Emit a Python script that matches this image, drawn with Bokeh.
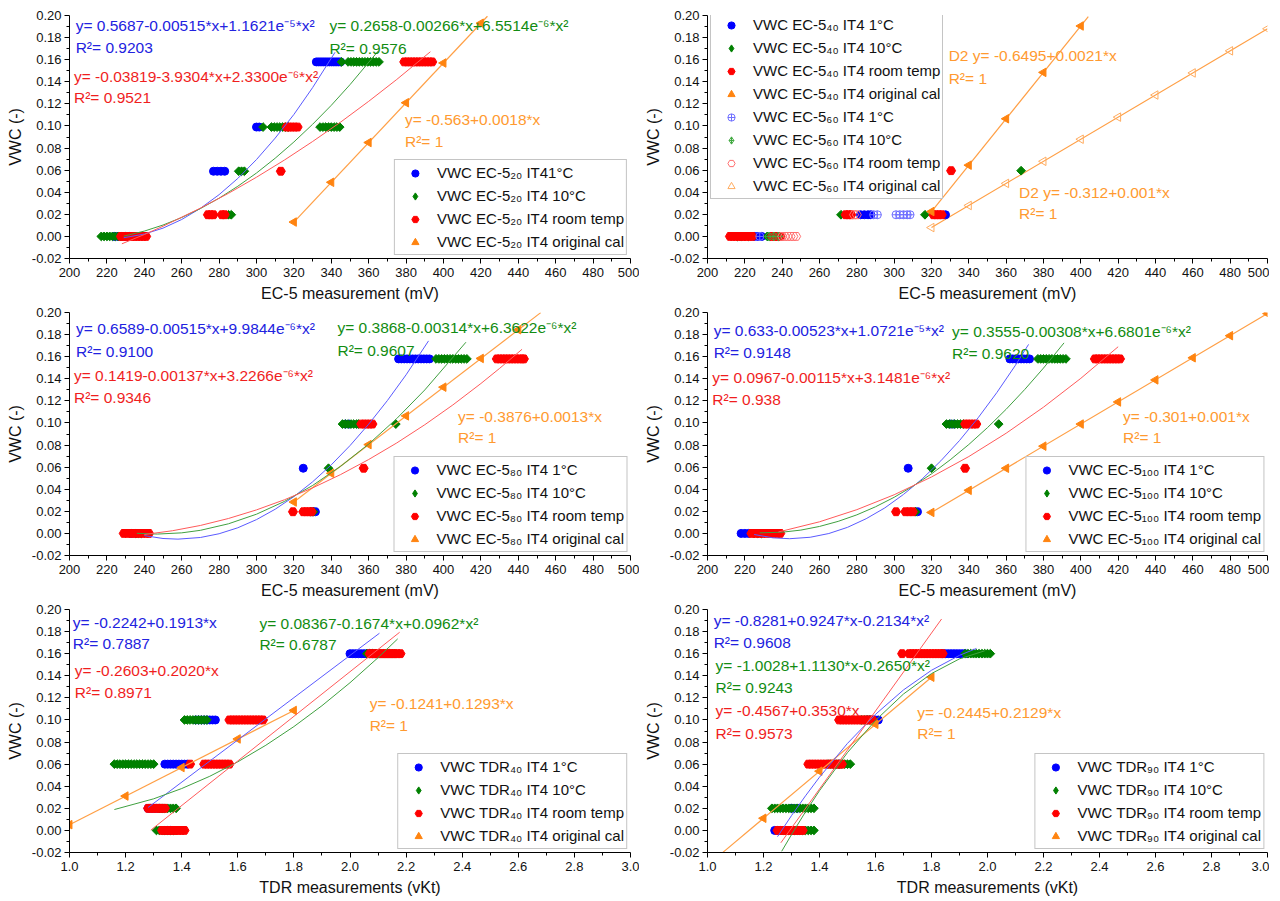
import math
from bokeh.plotting import figure
from bokeh.models import Range1d, FixedTicker, NumeralTickFormatter, Legend, LegendItem
from bokeh.layouts import column, row
from bokeh.embed import file_html
from bokeh.resources import INLINE
from bokeh.core.properties import value

FONT = "Liberation Sans"

# ---------------- data: panel 1 (EC-5 20) ----------------
P1_BLUE = [(0.0, [224, 226, 228, 230, 232]),
           (0.059, [277, 279, 281, 283]),
           (0.099, [300, 301.5]),
           (0.158, [332, 333, 334, 335, 336, 337, 338, 339, 340, 341, 342, 343, 344, 345])]
P1_GREEN = [(0.0, [217, 218.5, 220, 221.5, 223, 224.5, 226, 227.5]),
            (0.0196, [285, 286.5]),
            (0.059, [290.5, 292, 293.5]),
            (0.099, [303.5, 308, 309.5, 311, 312.5, 314, 315.5, 317, 334, 335.5, 337, 338.5, 340, 341.5, 343, 344.5]),
            (0.158, [345.5, 349, 350.5, 352, 353.5, 355, 356.5, 358, 359.5, 361, 362.5, 364, 365.5])]
P1_RED = [(0.0, [227.5, 229, 230.5, 232, 233.5, 235, 236.5, 238, 239.5, 241]),
          (0.0196, [274, 275.5, 277, 281.5, 283]),
          (0.059, [313]),
          (0.099, [316, 317.5, 319, 320.5, 322]),
          (0.158, [379, 380.5, 382, 383.5, 385, 386.5, 388, 389.5, 391, 392.5, 394])]
P1_ORANGE_X = [320, 340, 360, 380, 400, 420]
P1_ORANGE_Y = [0.013, 0.049, 0.085, 0.121, 0.157, 0.193]
P1_ORANGE_LINE = ([320, 423.5], [0.013, 0.1993])
P1_FIT_BLUE = ([229, 240, 250, 260, 270, 280, 290, 300, 310, 320, 330, 342],
               [-0.0012, 0.0021, 0.0075, 0.0153, 0.0254, 0.0378, 0.0525, 0.0696, 0.0890, 0.1104, 0.1347, 0.1667])
P1_FIT_GREEN = ([229, 240, 250, 260, 270, 280, 290, 300, 310, 320, 330, 340, 350, 365],
                [0.0002, 0.0048, 0.0103, 0.0171, 0.0252, 0.0346, 0.0454, 0.0574, 0.0708, 0.0855, 0.1015, 0.1187, 0.1374, 0.1677])
P1_FIT_RED = ([228, 240, 250, 270, 285, 300, 315, 330, 345, 360, 375, 393],
              [-0.0067, 0.0017, 0.0092, 0.0256, 0.0390, 0.0536, 0.0692, 0.0859, 0.1035, 0.1223, 0.1421, 0.1672])
P1_LABELS = ["VWC EC-5₂₀ IT41°C", "VWC EC-5₂₀ IT4 10°C", "VWC EC-5₂₀ IT4 room temp", "VWC EC-5₂₀ IT4 original cal"]
P1_NOTES = [(203.3, 0.191, "y= 0.5687-0.00515*x+1.1621e⁻⁵*x²", "b"),
            (203.3, 0.171, "R²= 0.9203", "b"),
            (339, 0.191, "y= 0.2658-0.00266*x+6.5514e⁻⁶*x²", "g"),
            (339, 0.170, "R²= 0.9576", "g"),
            (202.4, 0.1448, "y= -0.03819-3.9304*x+2.3300e⁻⁶*x²", "r"),
            (202.4, 0.1255, "R²= 0.9521", "r"),
            (379.4, 0.106, "y= -0.563+0.0018*x", "o"),
            (379.4, 0.0863, "R²= 1", "o")]

# ---------------- data: panel 2 (EC-5 40 / 60) ----------------
P2_BLUE40 = [(0.0, [225, 227, 229]), (0.0196, [282, 284, 286, 287.5, 327.5])]
P2_GREEN40 = [(0.0, [216, 218, 220, 222, 232, 233.5]), (0.0196, [271.5, 316.5]), (0.0595, [320, 368])]
P2_RED40 = [(0.0, [212, 213.5, 215, 216.5, 218, 219.5, 221, 222.5, 224, 234.5, 236, 237.5, 239]),
            (0.0196, [274, 275.5, 277, 321, 322.5, 324, 325.5]),
            (0.0595, [281, 282.5, 284, 285.5, 287, 330.5])]
P2_ORANGE40_X = [320, 340, 360, 380, 400]
P2_ORANGE40_Y = [0.0225, 0.0645, 0.1065, 0.1485, 0.1905]
P2_ORANGE40_LINE = ([320, 404], [0.0225, 0.1989])
P2_BLUE60 = [(0.0, [228]), (0.0196, [289, 291, 301, 303, 305, 307, 308.5])]
P2_GREEN60 = [(0.0, [233, 235.5, 238]), (0.0595, [320])]
P2_RED60 = [(0.0, [240, 241.5, 243, 244.5, 246, 247.5]), (0.0196, [278.5, 280]), (0.0595, [282.5, 285])]
P2_ORANGE60_X = [320, 340, 360, 380, 400, 420, 440, 460, 480, 500]
P2_ORANGE60_Y = [0.008, 0.028, 0.048, 0.068, 0.088, 0.108, 0.128, 0.148, 0.168, 0.188]
P2_ORANGE60_LINE = ([320, 500], [0.008, 0.188])
P2_LABELS = ["VWC EC-5₄₀ IT4 1°C", "VWC EC-5₄₀ IT4 10°C", "VWC EC-5₄₀ IT4 room temp", "VWC EC-5₄₀ IT4 original cal",
             "VWC EC-5₆₀ IT4 1°C", "VWC EC-5₆₀ IT4 10°C", "VWC EC-5₆₀ IT4 room temp", "VWC EC-5₆₀ IT4 original cal"]
P2_NOTES = [(329.2, 0.1636, "D2 y= -0.6495+0.0021*x", "o"),
            (329.2, 0.1434, "R²= 1", "o"),
            (366.9, 0.040, "D2 y= -0.312+0.001*x", "o"),
            (366.9, 0.021, "R²= 1", "o")]

# ---------------- data: panel 3 (EC-5 80) ----------------
P3_BLUE = [(0.0, [233, 235.5]), (0.0196, [330, 331.5]), (0.059, [325]), (0.099, [347.5, 349.5]),
           (0.158, [376, 377.5, 379, 380.5, 382, 383.5, 385, 386.5, 388, 389.5, 391, 392.5])]
P3_GREEN = [(0.0, [235.5, 237, 238.5]), (0.0196, [329, 330.5]), (0.059, [338.5]),
            (0.099, [346, 347.5, 349, 350.5, 352, 353.5, 354.5, 374.5]),
            (0.158, [396, 397.5, 399, 400.5, 402, 403.5, 405, 406.5, 408, 409.5, 411, 412.5])]
P3_RED = [(0.0, [229, 231, 233, 235, 237, 239, 241, 242.5]), (0.0196, [319.5, 325, 326.5, 328, 329.5]),
          (0.059, [357.3]), (0.099, [356, 357.5, 359, 360.5, 362]),
          (0.158, [428.5, 430, 431.5, 433, 434.5, 436, 437.5, 439, 440.5, 442, 443])]
P3_ORANGE_X = [320, 340, 360, 380, 400, 420, 440]
P3_ORANGE_Y = [0.0284, 0.0544, 0.0804, 0.1064, 0.1324, 0.1584, 0.1844]
P3_ORANGE_LINE = ([320, 452], [0.0284, 0.1999])
P3_FIT_BLUE = ([240, 250, 258, 270, 280, 290, 300, 310, 320, 330, 340, 350, 360, 370, 380, 392],
               [-0.0020, -0.0046, -0.0052, -0.0037, -0.0003, 0.0051, 0.0125, 0.0219, 0.0333, 0.0467, 0.0621, 0.0795, 0.0989, 0.1203, 0.1436, 0.1743])
P3_FIT_GREEN = ([236, 247, 260, 270, 285, 300, 315, 330, 345, 360, 375, 390, 412],
                [0.0001, -0.0006, 0.0005, 0.0028, 0.0087, 0.0174, 0.0290, 0.0434, 0.0608, 0.0809, 0.1040, 0.1299, 0.1731])
P3_FIT_RED = ([240, 255, 270, 285, 300, 315, 330, 345, 360, 375, 390, 405, 420, 430, 442],
              [-0.0010, 0.0024, 0.0072, 0.0135, 0.0213, 0.0305, 0.0412, 0.0533, 0.0669, 0.0819, 0.0984, 0.1163, 0.1357, 0.1494, 0.1667])
P3_LABELS = ["VWC EC-5₈₀ IT4 1°C", "VWC EC-5₈₀ IT4 10°C", "VWC EC-5₈₀ IT4 room temp", "VWC EC-5₈₀ IT4 original cal"]
P3_NOTES = [(203.5, 0.1858, "y= 0.6589-0.00515*x+9.9844e⁻⁶*x²", "b"),
            (203.5, 0.165, "R²= 0.9100", "b"),
            (343.3, 0.186, "y= 0.3868-0.00314*x+6.3622e⁻⁶*x²", "g"),
            (343.3, 0.166, "R²= 0.9607", "g"),
            (202.4, 0.1434, "y= 0.1419-0.00137*x+3.2266e⁻⁶*x²", "r"),
            (202.4, 0.123, "R²= 0.9346", "r"),
            (407.8, 0.106, "y= -0.3876+0.0013*x", "o"),
            (407.8, 0.0865, "R²= 1", "o")]

# ---------------- data: panel 4 (EC-5 100) ----------------
P4_BLUE = [(0.0, [218, 220, 222]), (0.0196, [312.5]), (0.059, [307.5]), (0.099, [330, 332]),
           (0.158, [362, 363.5, 365, 366.5, 368, 369.5, 371, 372.5])]
P4_GREEN = [(0.0, [225, 227, 229]), (0.0196, [311.5]), (0.059, [320]),
            (0.099, [328, 329.5, 331, 332.5, 334, 335.5, 337, 356]),
            (0.158, [377, 378.5, 380, 381.5, 383, 384.5, 386, 387.5, 389, 390.5, 392])]
P4_RED = [(0.0, [223.5, 225.5, 227.5, 229.5, 231.5, 233.5, 235.5, 237.5, 239]), (0.0196, [301, 306, 308, 310]),
          (0.059, [338]), (0.099, [338, 339.5, 341, 342.5, 344]),
          (0.158, [407.5, 409, 410.5, 412, 413.5, 415, 416.5, 418, 419.5, 421])]
P4_ORANGE_X = [320, 340, 360, 380, 400, 420, 440, 460, 480, 500]
P4_ORANGE_Y = [0.019, 0.039, 0.059, 0.079, 0.099, 0.119, 0.139, 0.159, 0.179, 0.199]
P4_ORANGE_LINE = ([320, 500], [0.019, 0.199])
P4_FIT_BLUE = ([225, 235, 244, 255, 265, 275, 285, 295, 305, 315, 325, 335, 345, 355, 365, 372],
               [-0.0010, -0.0040, -0.0048, -0.0035, -0.0001, 0.0055, 0.0133, 0.0231, 0.0353, 0.0493, 0.0657, 0.0841, 0.1047, 0.1275, 0.1523, 0.1711])
P4_FIT_GREEN = ([228, 240, 250, 260, 270, 280, 290, 300, 310, 320, 330, 340, 350, 360, 370, 380, 391],
                [0.0005, 0.0011, 0.0030, 0.0063, 0.0109, 0.0168, 0.0241, 0.0327, 0.0427, 0.0539, 0.0666, 0.0805, 0.0958, 0.1124, 0.1304, 0.1497, 0.1725])
P4_FIT_RED = ([238, 260, 280, 300, 320, 340, 360, 380, 400, 420],
              [0.0013, 0.0105, 0.0215, 0.0350, 0.0511, 0.0696, 0.0907, 0.1143, 0.1404, 0.1690])
P4_LABELS = ["VWC EC-5₁₀₀ IT4 1°C", "VWC EC-5₁₀₀ IT4 10°C", "VWC EC-5₁₀₀ IT4 room temp", "VWC EC-5₁₀₀ IT4 original cal"]
P4_NOTES = [(203.3, 0.184, "y= 0.633-0.00523*x+1.0721e⁻⁵*x²", "b"),
            (203.3, 0.164, "R²= 0.9148", "b"),
            (331, 0.1827, "y= 0.3555-0.00308*x+6.6801e⁻⁶*x²", "g"),
            (331, 0.163, "R²= 0.9620", "g"),
            (202.6, 0.141, "y= 0.0967-0.00115*x+3.1481e⁻⁶*x²", "r"),
            (202.6, 0.1216, "R²= 0.938", "r"),
            (422.6, 0.106, "y= -0.301+0.001*x", "o"),
            (422.6, 0.087, "R²= 1", "o")]

# ---------------- data: panel 5 (TDR 40) ----------------
P5_BLUE = [(0.0, [1.34, 1.35, 1.36]),
           (0.02, [1.28, 1.29, 1.30, 1.31, 1.32, 1.33]),
           (0.06, [1.34, 1.35, 1.36, 1.37, 1.38, 1.39, 1.40, 1.41, 1.42]),
           (0.10, [1.45, 1.46, 1.47, 1.48, 1.49, 1.50, 1.51, 1.52]),
           (0.16, [2.00, 2.01, 2.02, 2.03, 2.04, 2.05, 2.06, 2.07, 2.08, 2.09])]
P5_GREEN = [(0.0, [1.31, 1.32, 1.33, 1.34, 1.35, 1.36, 1.37, 1.38]),
            (0.02, [1.32, 1.33, 1.34, 1.35, 1.36, 1.37, 1.38]),
            (0.06, [1.16, 1.17, 1.18, 1.19, 1.20, 1.21, 1.22, 1.23, 1.24, 1.25, 1.26, 1.27, 1.28, 1.29, 1.30]),
            (0.10, [1.41, 1.42, 1.43, 1.44, 1.45, 1.46, 1.47, 1.48, 1.49]),
            (0.16, [2.06, 2.07, 2.08, 2.09, 2.10, 2.11, 2.12, 2.13, 2.14, 2.15, 2.16])]
P5_RED = [(0.0, [1.33, 1.34, 1.35, 1.36, 1.37, 1.38, 1.39, 1.40, 1.41]),
          (0.02, [1.28, 1.29, 1.30, 1.31, 1.32, 1.33, 1.34]),
          (0.06, [1.43, 1.48, 1.49, 1.50, 1.51, 1.52, 1.53, 1.54, 1.55, 1.56, 1.57]),
          (0.10, [1.57, 1.58, 1.59, 1.60, 1.61, 1.62, 1.63, 1.64, 1.65, 1.66, 1.67, 1.68, 1.69]),
          (0.16, [2.07, 2.08, 2.09, 2.10, 2.11, 2.12, 2.13, 2.14, 2.15, 2.16, 2.17, 2.18])]
P5_ORANGE_X = [1.0, 1.2, 1.4, 1.6, 1.8]
P5_ORANGE_Y = [0.0052, 0.0311, 0.0569, 0.0828, 0.1086]
P5_ORANGE_LINE = ([1.0, 1.8], [0.0052, 0.1086])
P5_FIT_BLUE = ([1.28, 2.105], [0.0207, 0.1785])
P5_FIT_GREEN = ([1.16, 1.3, 1.4, 1.5, 1.6, 1.7, 1.8, 1.9, 2.0, 2.1, 2.17],
                [0.0189, 0.0286, 0.0379, 0.0490, 0.0621, 0.0771, 0.0940, 0.1129, 0.1337, 0.1564, 0.1734])
P5_FIT_RED = ([1.29, 2.177], [0.0003, 0.1794])
P5_LABELS = ["VWC TDR₄₀ IT4 1°C", "VWC TDR₄₀ IT4 10°C", "VWC TDR₄₀ IT4 room temp", "VWC TDR₄₀ IT4 original cal"]
P5_NOTES = [(1.012, 0.1878, "y= -0.2242+0.1913*x", "b"),
            (1.012, 0.169, "R²= 0.7887", "b"),
            (1.677, 0.187, "y= 0.08367-0.1674*x+0.0962*x²", "g"),
            (1.677, 0.168, "R²= 0.6787", "g"),
            (1.019, 0.1447, "y= -0.2603+0.2020*x", "r"),
            (1.019, 0.125, "R²= 0.8971", "r"),
            (2.07, 0.1145, "y= -0.1241+0.1293*x", "o"),
            (2.07, 0.095, "R²= 1", "o")]

# ---------------- data: panel 6 (TDR 90) ----------------
P6_BLUE = [(0.0, [1.24, 1.25, 1.26]),
           (0.02, [1.30, 1.32]),
           (0.06, [1.45, 1.47]),
           (0.10, [1.57, 1.58, 1.59, 1.60, 1.61]),
           (0.16, [1.84, 1.85, 1.86, 1.87, 1.88, 1.89, 1.90, 1.91, 1.92])]
P6_GREEN = [(0.0, [1.27, 1.28, 1.29, 1.30, 1.31, 1.32, 1.33, 1.34, 1.35, 1.36, 1.37, 1.38]),
            (0.02, [1.23, 1.24, 1.25, 1.26, 1.27, 1.28, 1.29, 1.30, 1.31, 1.32, 1.33, 1.34, 1.35, 1.36, 1.37, 1.38]),
            (0.06, [1.43, 1.44, 1.45, 1.46, 1.47, 1.48, 1.49, 1.50, 1.51]),
            (0.10, [1.55, 1.56, 1.57, 1.58]),
            (0.16, [1.92, 1.93, 1.94, 1.95, 1.96, 1.97, 1.98, 1.99, 2.00, 2.01])]
P6_RED = [(0.0, [1.25, 1.26, 1.27, 1.28, 1.29, 1.30, 1.31, 1.32, 1.33, 1.34]),
          (0.06, [1.36, 1.37, 1.38, 1.39, 1.40, 1.41, 1.42, 1.43, 1.44, 1.45, 1.46, 1.47, 1.48]),
          (0.10, [1.47, 1.48, 1.49, 1.50, 1.51, 1.52, 1.53, 1.54, 1.55, 1.56, 1.57, 1.58, 1.59]),
          (0.16, [1.695, 1.72, 1.73, 1.74, 1.75, 1.76, 1.77, 1.78, 1.79, 1.80, 1.81, 1.82, 1.83, 1.84])]
P6_ORANGE_X = [1.2, 1.4, 1.6, 1.8]
P6_ORANGE_Y = [0.0110, 0.0536, 0.0961, 0.1387]
P6_ORANGE_LINE = ([1.055, 1.8], [-0.0199, 0.1387])
P6_FIT_BLUE = ([1.25, 1.3, 1.35, 1.4, 1.5, 1.6, 1.7, 1.8, 1.9, 1.96],
               [-0.0057, 0.0134, 0.0313, 0.0482, 0.0788, 0.1051, 0.1272, 0.1450, 0.1585, 0.1647])
P6_FIT_GREEN = ([1.265, 1.3, 1.35, 1.4, 1.5, 1.6, 1.7, 1.8, 1.9, 1.99],
                [-0.0189, -0.0038, 0.0168, 0.0360, 0.0705, 0.0996, 0.1235, 0.1420, 0.1553, 0.1626])
P6_FIT_RED = ([1.262, 1.836], [-0.0112, 0.1914])
P6_LABELS = ["VWC TDR₉₀ IT4 1°C", "VWC TDR₉₀ IT4 10°C", "VWC TDR₉₀ IT4 room temp", "VWC TDR₉₀ IT4 original cal"]
P6_NOTES = [(1.022, 0.190, "y= -0.8281+0.9247*x-0.2134*x²", "b"),
            (1.022, 0.170, "R²= 0.9608", "b"),
            (1.029, 0.149, "y= -1.0028+1.1130*x-0.2650*x²", "g"),
            (1.029, 0.1296, "R²= 0.9243", "g"),
            (1.029, 0.1085, "y= -0.4567+0.3530*x", "r"),
            (1.029, 0.088, "R²= 0.9573", "r"),
            (1.749, 0.107, "y= -0.2445+0.2129*x", "o"),
            (1.749, 0.0874, "R²= 1", "o")]

EC_TICKS = list(range(200, 501, 20))
EC_MINOR = list(range(210, 500, 20))
TDR_TICKS = [1.0, 1.2, 1.4, 1.6, 1.8, 2.0, 2.2, 2.4, 2.6, 2.8, 3.0]
TDR_MINOR = [1.1, 1.3, 1.5, 1.7, 1.9, 2.1, 2.3, 2.5, 2.7, 2.9]
Y_TICKS = [-0.02, 0.0, 0.02, 0.04, 0.06, 0.08, 0.10, 0.12, 0.14, 0.16, 0.18, 0.20]
Y_MINOR = [-0.01, 0.01, 0.03, 0.05, 0.07, 0.09, 0.11, 0.13, 0.15, 0.17, 0.19]

# ---------------- styles ----------------
C_BLUE, C_GREEN, C_RED, C_ORANGE = "#0000ff", "#008000", "#ff0000", "#ff8410"
TXT = {"b": "#2222e0", "g": "#128c12", "r": "#f01e1e", "o": "#ff9a30"}
FIT = {"b": "#5a5aff", "g": "#40a040", "r": "#ff5a5a"}
ORANGE_LINE = "#ff9f45"
FRAME_W_L, FRAME_W_R, FRAME_H = 561, 560, 243
S_CIRCLE, S_DIAM, S_HEX, S_TRI = 8, 6.2, 9, 8.5
NO_POINT = [math.nan]  # legend-only glyphs carry no visible point


def expand(bands):
    xs, ys = [], []
    for level, xv in bands:
        xs += list(xv)
        ys += [level] * len(xv)
    return xs, ys


def base_fig(xr, ticks, minor, fmt, xlabel, right_col, row_idx):
    p = figure(frame_width=FRAME_W_R if right_col else FRAME_W_L, frame_height=FRAME_H,
               x_range=Range1d(*xr), y_range=Range1d(-0.02, 0.20),
               output_backend="svg", toolbar_location=None,
               min_border_left=68 if right_col else 69, min_border_right=2 if right_col else 9,
               min_border_top=15 if row_idx == 0 else 8, min_border_bottom=46)
    p.grid.visible = False
    p.outline_line_color = None
    p.background_fill_color = "white"
    p.border_fill_color = "white"
    p.xaxis.ticker = FixedTicker(ticks=ticks, minor_ticks=minor)
    p.yaxis.ticker = FixedTicker(ticks=Y_TICKS, minor_ticks=Y_MINOR)
    p.yaxis.formatter = NumeralTickFormatter(format="0.00")
    if fmt:
        p.xaxis.formatter = NumeralTickFormatter(format=fmt)
    p.xaxis.axis_label = xlabel
    p.yaxis.axis_label = "VWC (-)"
    for ax in (p.xaxis[0], p.yaxis[0]):
        ax.axis_line_color = "black"
        ax.major_tick_in = 0
        ax.major_tick_out = 5
        ax.minor_tick_in = 0
        ax.minor_tick_out = 3
        ax.major_tick_line_color = "black"
        ax.minor_tick_line_color = "black"
        ax.major_label_text_font = FONT
        ax.major_label_text_font_size = "13px"
        ax.major_label_text_color = "#111111"
        ax.axis_label_text_font = FONT
        ax.axis_label_text_font_size = "16px"
        ax.axis_label_text_font_style = "normal"
        ax.axis_label_text_color = "#111111"
    p.xaxis.axis_label_standoff = 5
    p.yaxis.axis_label_standoff = 5
    p.xaxis.major_label_standoff = 4
    p.yaxis.major_label_standoff = 3
    return p


def add_notes(p, notes):
    for key in ("b", "g", "r", "o"):
        sel = [n for n in notes if n[3] == key]
        if not sel:
            continue
        p.text(x=[n[0] for n in sel], y=[n[1] for n in sel], text=[n[2] for n in sel],
               text_color=TXT[key], text_font=value(FONT), text_font_size="15.5px",
               text_baseline="middle", text_align="left")


def add_fit(p, fit, key):
    p.line(fit[0], fit[1], line_color=FIT[key], line_width=1)


def add_legend(p, items, location, margin):
    leg = Legend(items=items, location=location, margin=margin, padding=2, spacing=2,
                 glyph_width=36, glyph_height=18, label_height=21, label_standoff=4,
                 label_text_font=FONT, label_text_font_size="15px", label_text_color="#111111",
                 border_line_color="#8a8a8a", border_line_width=1, background_fill_alpha=1.0)
    p.add_layout(leg)


def legend_glyph(p, marker, color, filled=True):
    # Bokeh draws legend markers unrotated, so the legend uses an upright diamond glyph
    return p.scatter(x=NO_POINT, y=NO_POINT, marker=marker, size=10,
                     fill_color=color if filled else None, line_color=color)


def std_panel(xr, ticks, minor, fmt, xlabel, right_col, row_idx, blue, green, red, ox, oy, oline,
              fb, fg, fr, labels, notes):
    p = base_fig(xr, ticks, minor, fmt, xlabel, right_col, row_idx)
    bx, by = expand(blue)
    gx, gy = expand(green)
    rx, ry = expand(red)
    rb = p.scatter(bx, by, marker="circle", size=S_CIRCLE, fill_color=C_BLUE, line_color=C_BLUE)
    p.scatter(gx, gy, marker="square", angle=math.pi / 4, size=S_DIAM, fill_color=C_GREEN, line_color=C_GREEN)
    rr = p.scatter(rx, ry, marker="hex", size=S_HEX, fill_color=C_RED, line_color=C_RED)
    p.line(oline[0], oline[1], line_color=ORANGE_LINE, line_width=1.2)
    ro = p.scatter(ox, oy, marker="triangle", angle=math.pi / 2, size=S_TRI, fill_color=C_ORANGE, line_color=C_ORANGE)
    add_fit(p, fb, "b")
    add_fit(p, fg, "g")
    add_fit(p, fr, "r")
    add_notes(p, notes)
    rg_leg = legend_glyph(p, "diamond", C_GREEN)
    items = [LegendItem(label=labels[i], renderers=[r]) for i, r in enumerate([rb, rg_leg, rr, ro])]
    add_legend(p, items, "bottom_right", 3)
    return p


EC_LABEL = "EC-5 measurement (mV)"
TDR_LABEL = "TDR measurements (vKt)"

p1 = std_panel((200, 500), EC_TICKS, EC_MINOR, None, EC_LABEL, False, 0, P1_BLUE, P1_GREEN, P1_RED,
               P1_ORANGE_X, P1_ORANGE_Y, P1_ORANGE_LINE, P1_FIT_BLUE, P1_FIT_GREEN, P1_FIT_RED, P1_LABELS, P1_NOTES)

# panel 2
p2 = base_fig((200, 500), EC_TICKS, EC_MINOR, None, EC_LABEL, True, 0)
b40 = expand(P2_BLUE40); g40 = expand(P2_GREEN40); r40 = expand(P2_RED40)
b60 = expand(P2_BLUE60); g60 = expand(P2_GREEN60); r60 = expand(P2_RED60)
p2.line(P2_ORANGE40_LINE[0], P2_ORANGE40_LINE[1], line_color=ORANGE_LINE, line_width=1.2)
p2.line(P2_ORANGE60_LINE[0], P2_ORANGE60_LINE[1], line_color=ORANGE_LINE, line_width=1.2)
q1 = p2.scatter(*b40, marker="circle", size=S_CIRCLE, fill_color=C_BLUE, line_color=C_BLUE)
p2.scatter(*g40, marker="square", angle=math.pi / 4, size=S_DIAM, fill_color=C_GREEN, line_color=C_GREEN)
q3 = p2.scatter(*r40, marker="hex", size=S_HEX, fill_color=C_RED, line_color=C_RED)
q4 = p2.scatter(P2_ORANGE40_X, P2_ORANGE40_Y, marker="triangle", angle=math.pi / 2, size=S_TRI,
                fill_color=C_ORANGE, line_color=C_ORANGE)
q5 = p2.scatter(*b60, marker="circle_cross", size=S_CIRCLE, fill_color=None, line_color="#7070ff")
p2.scatter(*g60, marker="square_x", angle=math.pi / 4, size=S_DIAM, fill_color=None, line_color="#3fa83f")
q7 = p2.scatter(*r60, marker="hex", size=S_HEX, fill_color=None, line_color="#ff7070")
q8 = p2.scatter(P2_ORANGE60_X, P2_ORANGE60_Y, marker="triangle", angle=math.pi / 2, size=S_TRI,
                fill_color=None, line_color="#ffac60")
q2 = legend_glyph(p2, "diamond", C_GREEN)
q6 = legend_glyph(p2, "diamond_cross", "#3fa83f", filled=False)
add_notes(p2, P2_NOTES)
items2 = [LegendItem(label=P2_LABELS[i], renderers=[r]) for i, r in enumerate([q1, q2, q3, q4, q5, q6, q7, q8])]
add_legend(p2, items2, (3, 59), 0)

p3 = std_panel((200, 500), EC_TICKS, EC_MINOR, None, EC_LABEL, False, 1, P3_BLUE, P3_GREEN, P3_RED,
               P3_ORANGE_X, P3_ORANGE_Y, P3_ORANGE_LINE, P3_FIT_BLUE, P3_FIT_GREEN, P3_FIT_RED, P3_LABELS, P3_NOTES)
p4 = std_panel((200, 500), EC_TICKS, EC_MINOR, None, EC_LABEL, True, 1, P4_BLUE, P4_GREEN, P4_RED,
               P4_ORANGE_X, P4_ORANGE_Y, P4_ORANGE_LINE, P4_FIT_BLUE, P4_FIT_GREEN, P4_FIT_RED, P4_LABELS, P4_NOTES)
p5 = std_panel((1.0, 3.0), TDR_TICKS, TDR_MINOR, "0.0", TDR_LABEL, False, 2, P5_BLUE, P5_GREEN, P5_RED,
               P5_ORANGE_X, P5_ORANGE_Y, P5_ORANGE_LINE, P5_FIT_BLUE, P5_FIT_GREEN, P5_FIT_RED, P5_LABELS, P5_NOTES)
p6 = std_panel((1.0, 3.0), TDR_TICKS, TDR_MINOR, "0.0", TDR_LABEL, True, 2, P6_BLUE, P6_GREEN, P6_RED,
               P6_ORANGE_X, P6_ORANGE_Y, P6_ORANGE_LINE, P6_FIT_BLUE, P6_FIT_GREEN, P6_FIT_RED, P6_LABELS, P6_NOTES)

layout = column(row(p1, p2), row(p3, p4), row(p5, p6))
open("out.html", "w").write(file_html(layout, INLINE))
